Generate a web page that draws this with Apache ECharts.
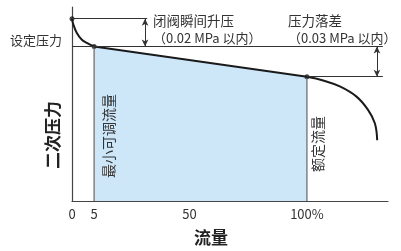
<!DOCTYPE html>
<html lang="zh">
<head>
<meta charset="UTF-8">
<title>二次压力 - 流量特性</title>
<script src="https://cdn.jsdelivr.net/npm/echarts@6/dist/echarts.min.js"></script>
</head>
<body style="margin:0">
<div id="main" style="width:401px;height:251px;"></div>
<script>
// x 轴为示意刻度：位置 / 显示文字
var tickPos = [0, 9.4, 50, 100];
var tickText = ['0', '5', '50', '100%'];

// 特性曲线（示意值）
var riseCurve = [[0, 118.4], [0.55, 114.7], [2.0, 109.3], [4.1, 104.9], [6.3, 102.7], [9.4, 100.3]];
var dropLine = [[9.4, 100.3], [100, 80.7]];
var fallCurve = [[100, 80.7], [106.9, 78.3], [114, 74.4], [121.1, 67.8], [126, 59.2], [128.9, 50.5], [129.9, 39.5]];
var keyPoints = [[0, 118.4], [9.4, 100.3], [100, 80.7]];

// 标注线
var peakPressure = 118.4;
var setPressure = 100.3;
var ratedPressure = 80.7;
var minFlow = 9.4, ratedFlow = 100;
var guideEnd1 = 32, guideEnd2 = 132.3;
var arrowX1 = 31.1, arrowX2 = 129.8;

var FONT = '"Noto Sans CJK SC", "Noto Sans", sans-serif';
var TXT = '#333';

var chart = echarts.init(document.getElementById('main'));

function txt(x, y, s, opt) {
    opt = opt || {};
    return {
        type: 'text', x: x, y: y, z: 100, rotation: opt.rot || 0, silent: true,
        style: {
            text: s, fill: opt.color || TXT, font: (opt.weight || 'normal') + ' ' + (opt.size || 13) + 'px ' + FONT,
            textAlign: opt.align || 'left', textVerticalAlign: 'middle'
        }
    };
}

var option = {
    animation: false,
    grid: { left: 72, right: 13, top: 7, bottom: 50 },
    xAxis: {
        type: 'value', min: 0, max: 134.5,
        splitLine: { show: false },
        axisLine: { lineStyle: { color: '#444', width: 1.2 } },
        axisTick: { show: true, inside: true, length: 6, customValues: [50], lineStyle: { color: '#444' } },
        axisLabel: {
            customValues: tickPos, margin: 7, color: TXT, fontSize: 13, fontFamily: FONT,
            formatter: function (v) { var i = tickPos.indexOf(v); return i >= 0 ? tickText[i] : ''; }
        }
    },
    yAxis: {
        type: 'value', min: 0, max: 126,
        splitLine: { show: false },
        axisLine: { show: true, lineStyle: { color: '#444', width: 1.2 } },
        axisTick: { show: false },
        axisLabel: { show: false }
    },
    series: [
        {   // 可调范围
            type: 'line', data: dropLine, symbol: 'none', silent: true, z: 1,
            lineStyle: { width: 0 }, areaStyle: { color: '#cde6f8', opacity: 1 }
        },
        {
            type: 'line', data: [[minFlow, 0], [minFlow, setPressure]], symbol: 'none', silent: true,
            lineStyle: { color: '#666', width: 1.2 }
        },
        {
            type: 'line', data: [[ratedFlow, 0], [ratedFlow, ratedPressure]], symbol: 'none', silent: true,
            lineStyle: { color: '#666', width: 1.2 }
        },
        {   // 辅助线
            type: 'line', data: [], silent: true,
            markLine: {
                silent: true, symbol: 'none', label: { show: false },
                lineStyle: { color: '#333', width: 1, type: 'solid' },
                data: [
                    [{ coord: [0, peakPressure] }, { coord: [guideEnd1, peakPressure] }],
                    [{ coord: [0, setPressure] }, { coord: [guideEnd2, setPressure] }],
                    [{ coord: [ratedFlow, ratedPressure] }, { coord: [guideEnd2, ratedPressure] }]
                ]
            }
        },
        {   // 双向箭头
            type: 'line', data: [], silent: true,
            markLine: {
                silent: true, symbol: ['arrow', 'arrow'], symbolSize: [5, 7], label: { show: false },
                lineStyle: { color: '#333', width: 1, type: 'solid' },
                data: [
                    [{ coord: [arrowX1, peakPressure] }, { coord: [arrowX1, setPressure] }],
                    [{ coord: [arrowX2, setPressure] }, { coord: [arrowX2, ratedPressure] }]
                ]
            }
        },
        {
            type: 'line', data: riseCurve, symbol: 'none', smooth: 0.4, silent: true,
            lineStyle: { color: '#1a1a1a', width: 2 }
        },
        {
            type: 'line', data: dropLine, symbol: 'none', silent: true,
            lineStyle: { color: '#1a1a1a', width: 2 }
        },
        {
            type: 'line', data: fallCurve, symbol: 'none', smooth: 0.4, silent: true,
            lineStyle: { color: '#1a1a1a', width: 2 }
        },
        {
            type: 'scatter', data: keyPoints, symbolSize: 5, silent: true,
            itemStyle: { color: '#1a1a1a' }
        }
    ],
    graphic: [
        txt(62, 40, '设定压力', { align: 'right' }),
        txt(153, 21, '闭阀瞬间升压', { size: 13.5 }),
        txt(153, 38, '（0.02 MPa 以内）'),
        txt(288, 21, '压力落差', { size: 13.5 }),
        txt(288, 38, '（0.03 MPa 以内）'),
        txt(109, 136, '最小可调流量', { align: 'center', rot: Math.PI / 2, size: 14 }),
        txt(318, 144, '额定流量', { align: 'center', rot: Math.PI / 2, size: 14 }),
        txt(53, 135, '二次压力', { align: 'center', rot: Math.PI / 2, size: 17, weight: 'bold', color: '#222' }),
        txt(211, 238, '流量', { align: 'center', size: 17, weight: 'bold', color: '#222' })
    ]
};

chart.setOption(option);
</script>
</body>
</html>
